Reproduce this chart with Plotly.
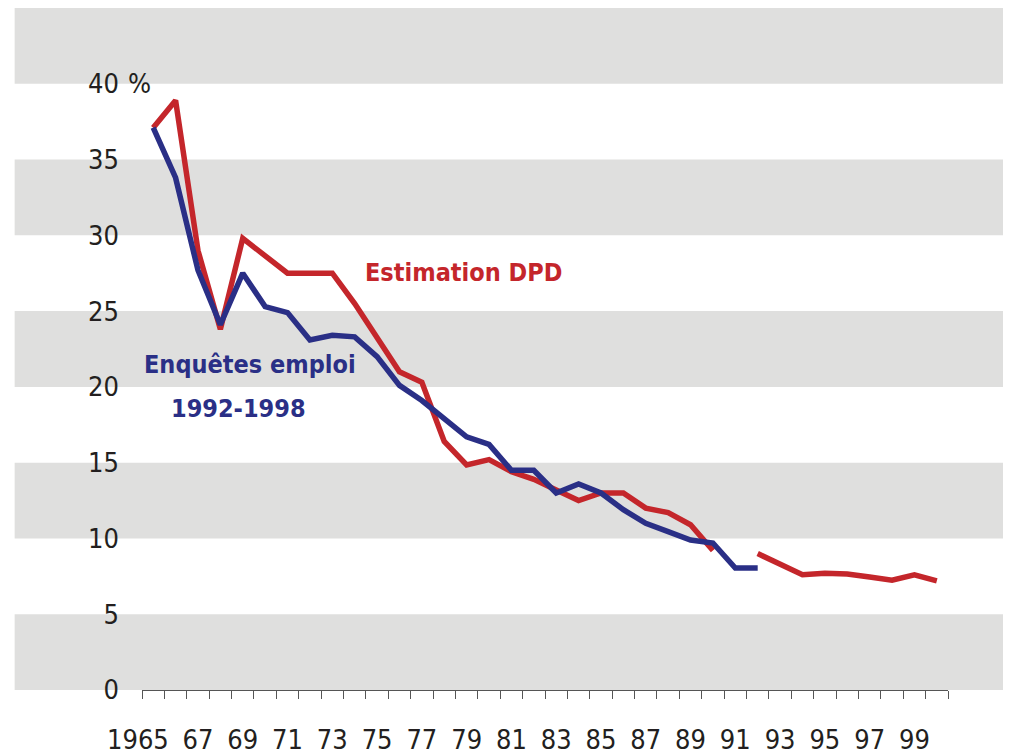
import plotly.graph_objects as go

years = list(range(1965, 2001))

# Estimation DPD (red) -- gap at 1991
dpd = [37.1, 38.9, 29.0, 23.8, 29.8, 28.6, 27.5, 27.5, 27.5, 25.5,
       23.3, 21.0, 20.3, 16.4, 14.85, 15.2, 14.4, 13.9, 13.2, 12.5,
       13.0, 13.0, 12.0, 11.7, 10.9, 9.2, None, 9.0, 8.25, 7.6,
       7.7, 7.65, 7.45, 7.25, 7.6, 7.2]

# Enquêtes emploi (blue), 1965-1992
emploi_years = list(range(1965, 1993))
emploi = [37.1, 33.8, 27.7, 24.1, 27.5, 25.3, 24.9, 23.1, 23.4, 23.3,
          22.0, 20.1, 19.1, 17.95, 16.7, 16.2, 14.5, 14.5, 13.0, 13.6,
          13.0, 11.9, 11.0, 10.45, 9.9, 9.7, 8.05, 8.05]

label_years = list(range(1965, 2000, 2))
label_text = [""] + [str(y)[2:] for y in label_years[1:]]
y_ticks = [0, 5, 10, 15, 20, 25, 30, 35, 40]
Y_MAX = 45
band_edges = [(0, 5), (10, 15), (20, 25), (30, 35), (40, 45)]

FONT = "DejaVu Sans Condensed, Liberation Sans Narrow, Arial Narrow, sans-serif"
RED = "#c4262b"
BLUE = "#2a2f86"
GRAY = "#dfdfde"
TXT = "#231f20"
TICK_SIZE = 27
ANN_SIZE = 25

fig = go.Figure()
fig.add_trace(go.Scatter(x=years, y=dpd, mode="lines", connectgaps=False,
                         line=dict(color=RED, width=5.5), name="Estimation DPD"))
fig.add_trace(go.Scatter(x=emploi_years, y=emploi, mode="lines",
                         line=dict(color=BLUE, width=5.5), name="Enquêtes emploi"))

shapes = []
for y0, y1 in band_edges:
    shapes.append(dict(type="rect", xref="paper", yref="paper", x0=-0.158, x1=1.09,
                       y0=y0 / Y_MAX, y1=y1 / Y_MAX, fillcolor=GRAY,
                       line=dict(width=0), layer="below"))

annotations = [
    dict(x=1965, y=0, xref="x", yref="y", text="1965", showarrow=False,
         xanchor="right", yanchor="top", xshift=18, yshift=-32,
         font=dict(family=FONT, size=TICK_SIZE, color=TXT)),
    dict(x=0, y=40, xref="paper", yref="y", text="%", showarrow=False,
         xanchor="left", xshift=-16, font=dict(family=FONT, size=TICK_SIZE, color=TXT)),
    dict(x=1974.38, y=27.55, xref="x", yref="y", text="<b>Estimation DPD</b>",
         showarrow=False, xanchor="left", yanchor="middle",
         font=dict(family=FONT, size=ANN_SIZE, color=RED)),
    dict(x=1969.33, y=21.5, xref="x", yref="y", text="<b>Enquêtes emploi</b>",
         showarrow=False, xanchor="center", yanchor="middle",
         font=dict(family=FONT, size=ANN_SIZE, color=BLUE)),
    dict(x=1968.8, y=18.55, xref="x", yref="y", text="<b>1992-1998</b>",
         showarrow=False, xanchor="center", yanchor="middle",
         font=dict(family=FONT, size=ANN_SIZE, color=BLUE)),
]

fig.update_layout(
    width=1003, height=746,
    margin=dict(l=134, r=63, t=0, b=64),
    paper_bgcolor="white", plot_bgcolor="rgba(0,0,0,0)",
    showlegend=False,
    shapes=shapes, annotations=annotations,
    font=dict(family=FONT, size=TICK_SIZE, color=TXT),
    xaxis=dict(range=[1964.5, 2000.5], showgrid=False, zeroline=False, automargin=False,
               showline=True, linecolor="#555555", linewidth=1,
               tickmode="array", tickvals=label_years, ticktext=label_text,
               ticks="", ticklabelstandoff=26,
               tickfont=dict(family=FONT, size=TICK_SIZE, color=TXT),
               minor=dict(tickmode="linear", tick0=1964.5, dtick=1, ticks="outside",
                          ticklen=8, tickcolor="#555555", tickwidth=1, showgrid=False)),
    yaxis=dict(range=[0, Y_MAX], showgrid=False, zeroline=False, showline=False, automargin=False,
               tickmode="array", tickvals=y_ticks, ticktext=[str(v) for v in y_ticks],
               ticks="", ticklabelstandoff=22,
               tickfont=dict(family=FONT, size=TICK_SIZE, color=TXT)),
)

fig.write_html("out.html")
